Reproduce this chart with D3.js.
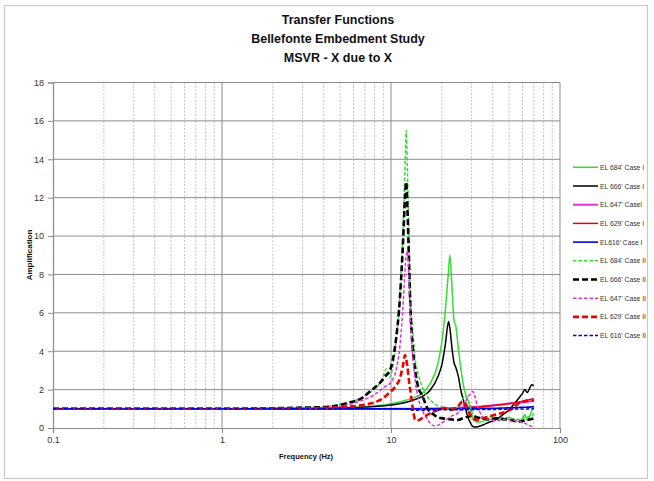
<!DOCTYPE html>
<html><head><meta charset="utf-8">
<script src="https://cdn.jsdelivr.net/npm/d3@7"></script>
<style>body{margin:0;background:#fff}svg{display:block}</style>
</head><body>
<svg id="c" width="654" height="481"></svg>
<script>
// ---------- data ----------
const titleLines = ["Transfer Functions", "Bellefonte Embedment Study", "MSVR - X due to X"];
const xTicks = [0.1, 1, 10, 100];
const yTicks = [0, 2, 4, 6, 8, 10, 12, 14, 16, 18];

// Case I frequency grid (Hz)
const freqI = [0.1, 0.5, 1, 2, 5, 8, 10, 12, 14, 15, 17, 19, 20, 21, 21.9, 22.3, 23, 23.6, 24.2, 25, 26, 27, 28, 29, 30, 31, 33, 35, 38, 42, 46, 50, 54, 57, 60, 62, 64, 66, 68, 70];
const el684I = [1.0, 1.0, 1.0, 1.01, 1.05, 1.15, 1.27, 1.42, 1.62, 1.75, 2.3, 3.4, 4.5, 6.2, 8.2, 9.0, 7.2, 5.6, 5.3, 4.2, 3.0, 2.1, 1.6, 1.3, 0.7, 0.4, 0.3, 0.35, 0.45, 0.5, 0.4, 0.55, 0.4, 0.35, 0.5, 0.7, 0.4, 0.6, 0.9, 1.05];
const el666I = [1.0, 1.0, 1.0, 1.01, 1.04, 1.12, 1.2, 1.32, 1.5, 1.6, 1.95, 2.7, 3.3, 4.4, 5.55, 5.2, 4.1, 3.4, 3.15, 2.7, 1.9, 1.35, 0.8, 0.4, 0.15, 0.05, 0.08, 0.16, 0.3, 0.45, 0.7, 0.95, 1.3, 1.55, 1.8, 2.0, 1.85, 2.05, 2.25, 2.2];
const el647I = [1.0, 1.0, 1.0, 1.0, 1.0, 1.0, 1.0, 1.0, 1.0, 1.0, 1.01, 1.02, 1.02, 1.03, 1.03, 1.03, 1.04, 1.04, 1.05, 1.05, 1.06, 1.07, 1.07, 1.08, 1.09, 1.1, 1.11, 1.13, 1.16, 1.2, 1.24, 1.28, 1.3, 1.32, 1.33, 1.35, 1.36, 1.38, 1.4, 1.42];
const el629I = [1.0, 1.0, 1.0, 1.0, 1.0, 1.0, 1.0, 1.0, 1.0, 1.0, 1.0, 1.01, 1.01, 1.01, 1.02, 1.02, 1.02, 1.03, 1.03, 1.03, 1.04, 1.05, 1.05, 1.06, 1.07, 1.08, 1.1, 1.12, 1.15, 1.19, 1.23, 1.27, 1.32, 1.36, 1.4, 1.43, 1.45, 1.48, 1.5, 1.52];
const el616I = [1.0, 1.0, 1.0, 1.0, 1.0, 1.0, 1.0, 1.0, 1.0, 1.0, 1.0, 1.0, 1.0, 1.0, 1.0, 1.0, 1.0, 1.0, 1.0, 1.0, 1.0, 1.0, 1.0, 1.0, 1.01, 1.01, 1.01, 1.02, 1.02, 1.03, 1.04, 1.05, 1.06, 1.07, 1.08, 1.08, 1.09, 1.09, 1.1, 1.1];

// Case II frequency grid (Hz)
const freqII = [0.1, 0.5, 1, 2, 3, 4.4, 5.5, 6.85, 7.5, 8.6, 9.0, 9.4, 9.8, 10.2, 10.7, 11.3, 11.8, 12.1, 12.3, 12.5, 12.8, 13.0, 13.5, 13.9, 14.5, 15.2, 16.5, 17.9, 19, 20.3, 22.6, 25, 26.5, 27.5, 29, 30.5, 32.4, 35, 38, 42, 47.5, 52, 57, 62, 67, 70];
const el684II = [1.0, 1.0, 1.0, 1.02, 1.05, 1.15, 1.3, 1.62, 1.85, 2.35, 2.7, 3.08, 2.65, 3.1, 4.5, 7.0, 10.5, 13.5, 15.5, 13.5, 9.5, 7.0, 4.9, 3.6, 2.8, 2.2, 1.6, 1.3, 1.15, 1.05, 1.0, 1.1, 1.5, 1.7, 1.3, 0.7, 0.5, 0.55, 0.6, 0.5, 0.55, 0.5, 0.45, 0.55, 0.6, 0.75];
const el666II = [1.0, 1.0, 1.0, 1.03, 1.06, 1.11, 1.3, 1.6, 1.9, 2.35, 2.55, 2.77, 2.94, 3.46, 4.6, 6.8, 9.8, 12.0, 12.8, 11.5, 8.5, 6.5, 4.0, 3.0, 2.1, 1.75, 1.0, 0.7, 0.55, 0.5, 0.45, 0.42, 0.5, 0.55, 0.6, 0.63, 0.55, 0.5, 0.45, 0.5, 0.45, 0.4, 0.33, 0.4, 0.45, 0.5];
const el647II = [1.0, 1.0, 1.0, 1.02, 1.04, 1.08, 1.2, 1.46, 1.6, 1.95, 2.1, 2.2, 2.3, 2.5, 3.0, 4.3, 6.5, 8.2, 9.0, 9.2, 7.5, 5.8, 3.6, 2.5, 1.55, 1.0, 0.42, 0.12, 0.15, 0.3, 0.6, 0.8, 1.1, 1.35, 1.7, 1.9, 1.2, 0.55, 0.45, 0.4, 0.45, 0.4, 0.35, 0.25, 0.1, 0.05];
const el629II = [1.0, 1.0, 1.0, 1.01, 1.02, 1.05, 1.1, 1.2, 1.27, 1.45, 1.55, 1.7, 1.85, 1.98, 2.2, 2.6, 3.3, 3.8, 3.6, 3.2, 2.4, 1.98, 0.94, 0.42, 0.4, 0.5, 0.7, 0.85, 0.95, 1.05, 0.94, 1.15, 1.37, 1.3, 0.8, 0.5, 0.42, 0.5, 0.6, 0.7, 0.85, 1.0, 1.3, 1.4, 1.46, 1.4];
const el616II = [1.0, 1.0, 1.0, 1.0, 1.0, 1.0, 1.0, 1.0, 1.0, 1.0, 1.0, 1.0, 1.0, 1.0, 1.0, 1.0, 1.0, 1.0, 0.98, 0.97, 0.96, 0.95, 0.93, 0.92, 0.92, 0.93, 0.93, 0.94, 0.94, 0.95, 0.95, 0.95, 0.95, 0.95, 0.95, 0.95, 0.96, 0.96, 0.97, 0.97, 0.98, 0.98, 0.99, 0.99, 1.0, 1.0];

const seriesNames = ["EL 684' Case I", "EL 666' Case I", "EL 647' CaseI", "EL 629' Case I", "EL616' Case I",
                     "EL 684' Case II", "EL 666' Case II", "EL 647' Case II", "EL 629' Case II", "EL 616' Case II"];

// ---------- styles ----------
const C = {green: "#33dd33", black: "#000000", magenta: "#dd33dd", red: "#ee0000", blue: "#0000dd"};
const series = [
  {name: seriesNames[0], f: freqI, v: el684I, color: C.green, w: 1.5, dash: null},
  {name: seriesNames[1], f: freqI, v: el666I, color: C.black, w: 1.5, dash: null},
  {name: seriesNames[2], f: freqI, v: el647I, color: C.magenta, w: 2, dash: null},
  {name: seriesNames[3], f: freqI, v: el629I, color: C.red, w: 1.5, dash: null},
  {name: seriesNames[4], f: freqI, v: el616I, color: C.blue, w: 1.6, dash: null},
  {name: seriesNames[5], f: freqII, v: el684II, color: C.green, w: 1.5, dash: "3.5,2"},
  {name: seriesNames[6], f: freqII, v: el666II, color: C.black, w: 2.6, dash: "6,3"},
  {name: seriesNames[7], f: freqII, v: el647II, color: C.magenta, w: 1.5, dash: "3.5,2"},
  {name: seriesNames[8], f: freqII, v: el629II, color: C.red, w: 2.6, dash: "6,3"},
  {name: seriesNames[9], f: freqII, v: el616II, color: C.blue, w: 1.5, dash: "3.5,2"}
];

const svg = d3.select("#c");
const M = {left: 53, right: 560, top: 82.5, bottom: 428};
const x = d3.scaleLog().domain([0.1, 100]).range([M.left, M.right]);
const y = d3.scaleLinear().domain([0, 18]).range([M.bottom, M.top]);
const font = "'Liberation Sans Narrow', 'Liberation Sans', Arial, sans-serif";

// outer border
svg.append("rect").attr("x", 4.5).attr("y", 5.5).attr("width", 643).attr("height", 473)
  .attr("fill", "#fff").attr("stroke", "#c8c8c8").attr("stroke-width", 1.2);

// title
svg.append("g").selectAll("text").data(titleLines).join("text")
  .attr("x", 338).attr("y", (d, i) => 24 + i * 19)
  .attr("text-anchor", "middle").attr("font-family", font).attr("font-weight", "bold")
  .attr("font-size", 12.5).attr("fill", "#111").text(d => d);

// minor grid
const minor = [];
[0.1, 1, 10].forEach(dec => { for (let k = 2; k <= 9; k++) minor.push(dec * k); });
svg.append("g").selectAll("line").data(minor).join("line")
  .attr("x1", d => x(d)).attr("x2", d => x(d)).attr("y1", M.top).attr("y2", M.bottom)
  .attr("stroke", "#c4c4c4").attr("stroke-width", 1).attr("stroke-dasharray", "2,1.5");
// major vertical grid
svg.append("g").selectAll("line").data(xTicks.slice(1)).join("line")
  .attr("x1", d => x(d)).attr("x2", d => x(d)).attr("y1", M.top).attr("y2", M.bottom)
  .attr("stroke", "#8c8c8c").attr("stroke-width", 1);
// horizontal grid
svg.append("g").selectAll("line").data(yTicks.slice(1)).join("line")
  .attr("x1", M.left).attr("x2", M.right).attr("y1", d => y(d)).attr("y2", d => y(d))
  .attr("stroke", "#8c8c8c").attr("stroke-width", 1);

// axes
const yAxis = d3.axisLeft(y).tickValues(yTicks).tickSize(5).tickPadding(4).tickFormat(d3.format("d"));
const gy = svg.append("g").attr("transform", `translate(${M.left},0)`).call(yAxis);
const xAxis = d3.axisBottom(x).tickValues(xTicks).tickSize(5).tickPadding(4).tickFormat(d => String(d));
const gx = svg.append("g").attr("transform", `translate(0,${M.bottom})`).call(xAxis);
[gx, gy].forEach(g => {
  g.select(".domain").attr("stroke", "#8c8c8c").attr("stroke-width", 1.2);
  g.selectAll(".tick line").attr("stroke", "#8c8c8c");
  g.selectAll(".tick text").attr("font-family", "'Liberation Sans', Arial, sans-serif")
    .attr("font-size", 9).attr("fill", "#333");
});

// axis titles
svg.append("text").attr("x", 306).attr("y", 459).attr("text-anchor", "middle")
  .attr("font-family", "'Liberation Sans', Arial, sans-serif").attr("font-weight", "bold")
  .attr("font-size", 7.5).attr("fill", "#111").text("Frequency (Hz)");
svg.append("text").attr("transform", "translate(32,255) rotate(-90)").attr("text-anchor", "middle")
  .attr("font-family", "'Liberation Sans', Arial, sans-serif").attr("font-weight", "bold")
  .attr("font-size", 8).attr("fill", "#111").text("Amplification");

// lines
const line = d3.line().x(d => x(d[0])).y(d => y(d[1])).curve(d3.curveMonotoneX);
const gl = svg.append("g");
series.forEach(s => {
  const pts = s.f.map((f, i) => [f, s.v[i]]);
  gl.append("path").datum(pts).attr("d", line).attr("fill", "none")
    .attr("stroke", s.color).attr("stroke-width", s.w)
    .attr("stroke-dasharray", s.dash).attr("stroke-linejoin", "round");
});

// legend
const lg = svg.append("g");
series.forEach((s, i) => {
  const yy = 167.3 + i * 18.7;
  lg.append("line").attr("x1", 573).attr("x2", 598).attr("y1", yy).attr("y2", yy)
    .attr("stroke", s.color).attr("stroke-width", s.w).attr("stroke-dasharray", s.dash);
  lg.append("text").attr("x", 600).attr("y", yy + 2.5)
    .attr("font-family", "'Liberation Sans', Arial, sans-serif").attr("font-size", 6.8)
    .attr("fill", "#333").text(s.name);
});
</script>
</body></html>
